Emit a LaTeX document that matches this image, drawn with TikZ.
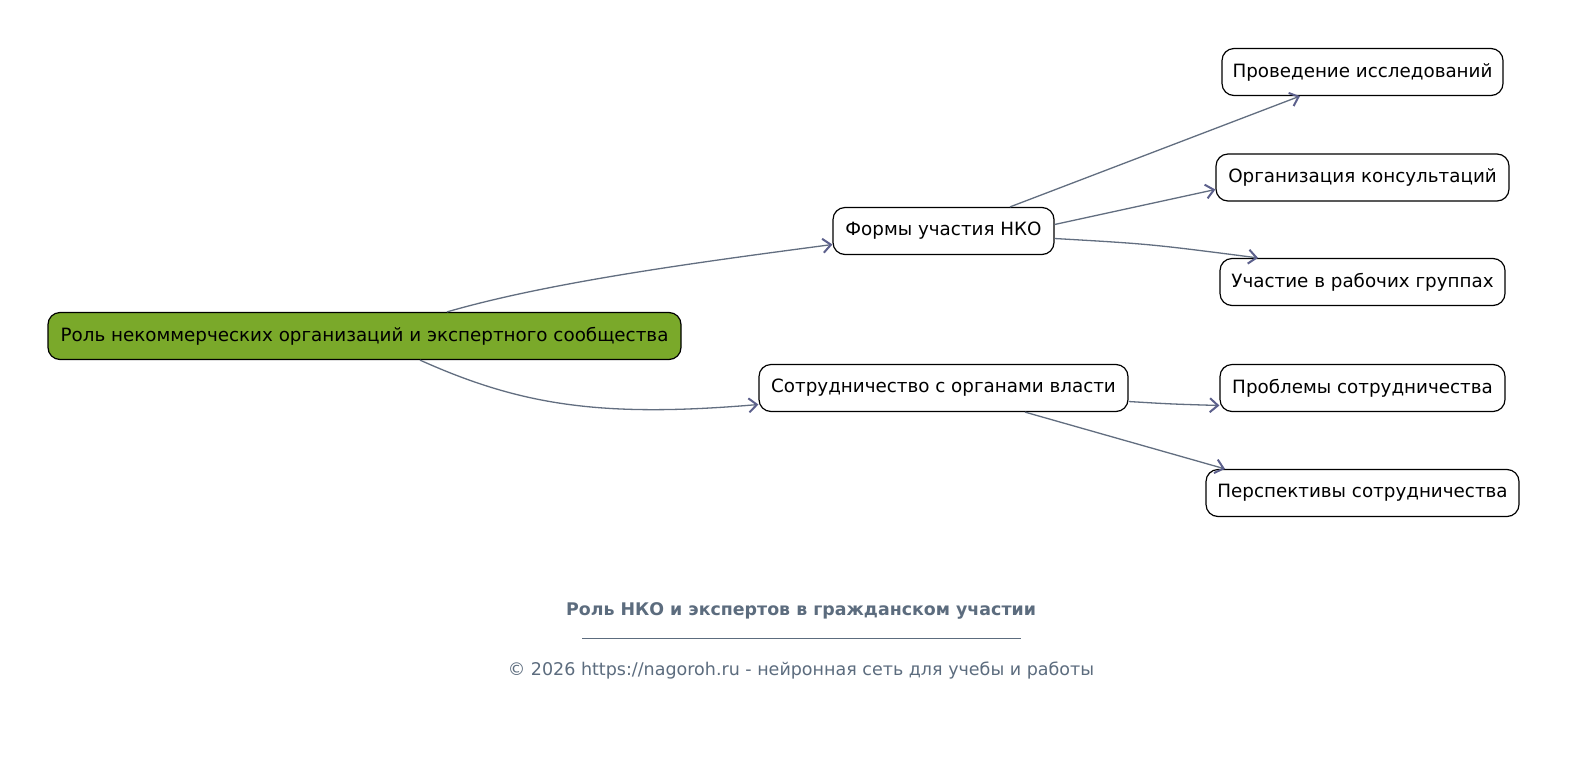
\documentclass[tikz,border=0pt]{standalone}
\usepackage{fontspec}
\setmainfont{DejaVu Sans}
\usetikzlibrary{arrows.meta}
\definecolor{rootgreen}{RGB}{122,169,42}
\definecolor{edgecol}{RGB}{98,110,128}
\definecolor{tipcol}{RGB}{92,96,140}
\definecolor{footcol}{RGB}{92,108,126}
\tikzset{
  box/.style={draw=black, line width=1.2pt, rounded corners=12pt, fill=white,
    minimum height=47pt, inner xsep=8pt, font=\fontsize{18.3}{22}\selectfont, text=black},
  rootbox/.style={box, fill=rootgreen},
  conn/.style={draw=edgecol, line width=1.3pt,
    -{Straight Barb[length=8pt,width=14pt,line width=2pt,color=tipcol]}},
}
\begin{document}
\begin{tikzpicture}[x=1pt,y=-1pt]
\fill[white] (0,0) rectangle (1571,756);
\useasboundingbox (0,0) rectangle (1571,756);
\node[rootbox, minimum width=633pt] (root) at (364.5,336) {Роль некоммерческих организаций и экспертного сообщества};
\node[box, minimum width=221pt] (forms) at (943.5,231) {Формы участия НКО};
\node[box, minimum width=369pt] (coop) at (943.5,388) {Сотрудничество с органами власти};
\node[box, minimum width=281pt] (res) at (1362.5,72) {Проведение исследований};
\node[box, minimum width=293pt] (cons) at (1362.5,177.5) {Организация консультаций};
\node[box, minimum width=285pt] (work) at (1362.5,282) {Участие в рабочих группах};
\node[box, minimum width=285pt] (prob) at (1362.5,388) {Проблемы сотрудничества};
\node[box, minimum width=313pt] (persp) at (1362.5,493) {Перспективы сотрудничества};

\draw[conn] ([xshift=82.5pt]root.north) .. controls (550,282) and (700,262) .. ([yshift=-13.5pt]forms.west);
\draw[conn] ([xshift=55.5pt]root.south) .. controls (520,405) and (600,418) .. ([yshift=-16.5pt]coop.west);
\draw[conn] ([xshift=66.5pt]forms.north) -- ([xshift=-62.5pt]res.south);
\draw[conn] ([yshift=6.5pt]forms.east) -- ([yshift=-12pt]cons.west);
\draw[conn] ([yshift=-7.5pt]forms.east) .. controls (1150,244) .. ([xshift=-104.5pt]work.north);
\draw[conn] ([yshift=-13.5pt]coop.east) .. controls (1170,404) .. ([yshift=-17.5pt]prob.west);
\draw[conn] ([xshift=81.5pt]coop.south) -- ([xshift=-137.5pt]persp.north);

\node[text=footcol, font=\fontsize{17.4}{20}\bfseries\selectfont] (title) at (801,611) {Роль НКО и экспертов в гражданском участии};
\draw[footcol, line width=0.5pt] (582,638) -- (1021,638);
\node[text=footcol, font=\fontsize{17.5}{20}\selectfont] (copy) at (801,671) {© 2026 https://nagoroh.ru - нейронная сеть для учебы и работы};
\end{tikzpicture}
\end{document}
